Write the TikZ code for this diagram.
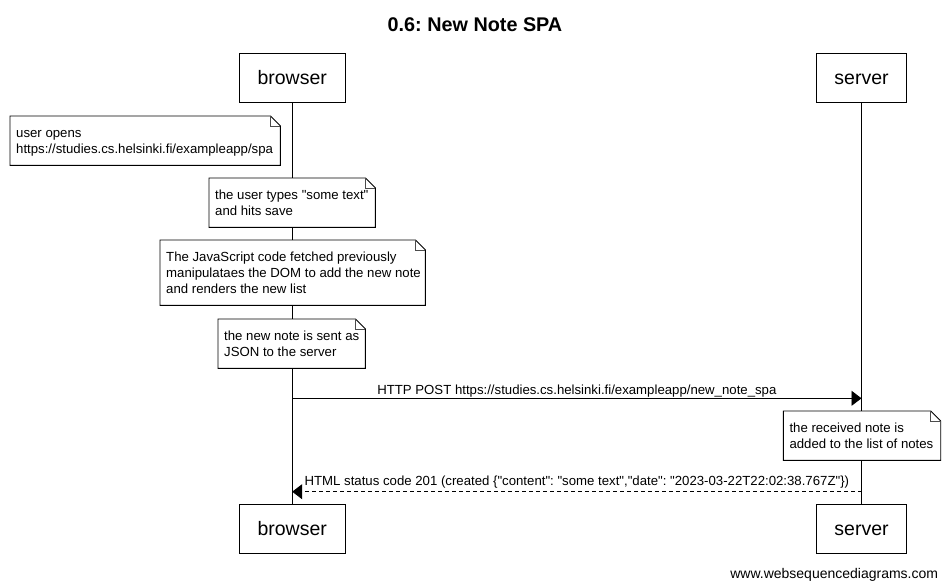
\documentclass[tikz,border=0pt]{standalone}
\usepackage{fontspec}
\setmainfont{Liberation Sans}[Ligatures=TeXOff]
\usetikzlibrary{arrows.meta}
\newcommand{\nstart}{\rule{0pt}{21.5pt}}
\begin{document}
\frenchspacing
\begin{tikzpicture}[x=1pt,y=-1pt,
  actor/.style={draw, line width=0.9pt, minimum height=48.5pt, inner sep=0pt, text height=14pt, text depth=0pt, font=\fontsize{19.5}{22}\selectfont},
  notebox/.style={fill=white, anchor=north west, inner sep=0pt},
  notetext/.style={anchor=north west, inner sep=0pt, xshift=6pt, align=left, font=\fontsize{13.2}{16}\selectfont},
  lifeline/.style={line width=0.9pt},
  msg/.style={line width=0.9pt},
  reply/.style={line width=0.9pt, dash pattern=on 4pt off 3pt},
  lbl/.style={anchor=base, inner sep=0pt, font=\fontsize{13.2}{16}\selectfont},
  head/.style={-{Triangle[length=10pt,width=15pt]}}
]
\useasboundingbox[fill=white] (0,0) rectangle (948,587);

\node[anchor=base, inner sep=0pt, font=\fontsize{19.8}{22}\selectfont\bfseries] (title) at (475,31) {0.6: New Note SPA};

\node[actor, minimum width=105.5pt] (bt) at (292.2,77.7) {browser};
\node[actor, minimum width=90pt] (st) at (861.5,77.8) {server};
\node[actor, minimum width=105.5pt] (bb) at (292.2,528.8) {browser};
\node[actor, minimum width=90pt] (sb) at (861.5,528.8) {server};

\draw[lifeline] (bt) -- (bb);
\draw[lifeline] (st) -- (sb);

\node[notebox, minimum width=270pt, minimum height=49pt] (n1) at (10,116) {};
\node[notebox, minimum width=166pt, minimum height=49pt] (n2) at (209,178) {};
\node[notebox, minimum width=265pt, minimum height=65pt] (n3) at (160,240) {};
\node[notebox, minimum width=147pt, minimum height=49pt] (n4) at (218,319) {};
\node[notebox, minimum width=157pt, minimum height=49pt] (n5) at (783.3,411) {};

\foreach \n in {n1,n2,n3,n4,n5} {
  \draw[line width=0.9pt] (\n.north west) -- ([xshift=-10pt]\n.north east) -- ([yshift=-10pt]\n.north east) -- (\n.south east) -- (\n.south west) -- cycle;
  \draw[line width=0.7pt, black!70] ([xshift=-10pt]\n.north east) |- ([yshift=-10pt]\n.north east);
}

\node[notetext] (t1) at (n1.north west) {\nstart user opens\\https://studies.cs.helsinki.fi/exampleapp/spa};
\node[notetext] (t2) at (n2.north west) {\nstart the user types "some text"\\and hits save};
\node[notetext] (t3) at (n3.north west) {\nstart The JavaScript code fetched previously\\manipulataes the DOM to add the new note\\and renders the new list};
\node[notetext] (t4) at (n4.north west) {\nstart the new note is sent as\\JSON to the server};
\node[notetext] (t5) at (n5.north west) {\nstart the received note is\\added to the list of notes};

\coordinate (m1) at (0,398.3);
\coordinate (m2) at (0,491.7);

\draw[msg, head] (bt |- m1) -- node[lbl, yshift=3.6pt] (l1) {HTTP POST https://studies.cs.helsinki.fi/exampleapp/new\_note\_spa} (st |- m1);
\draw[reply, head] (st |- m2) -- node[lbl, yshift=6pt] (l2) {HTML status code 201 (created \{"content": "some text","date": "2023-03-22T22:02:38.767Z"\})} (bt |- m2);

\node[anchor=base east, inner sep=0pt, font=\fontsize{14}{16}\selectfont] (wm) at (938.3,578) {www.websequencediagrams.com};
\end{tikzpicture}
\end{document}
